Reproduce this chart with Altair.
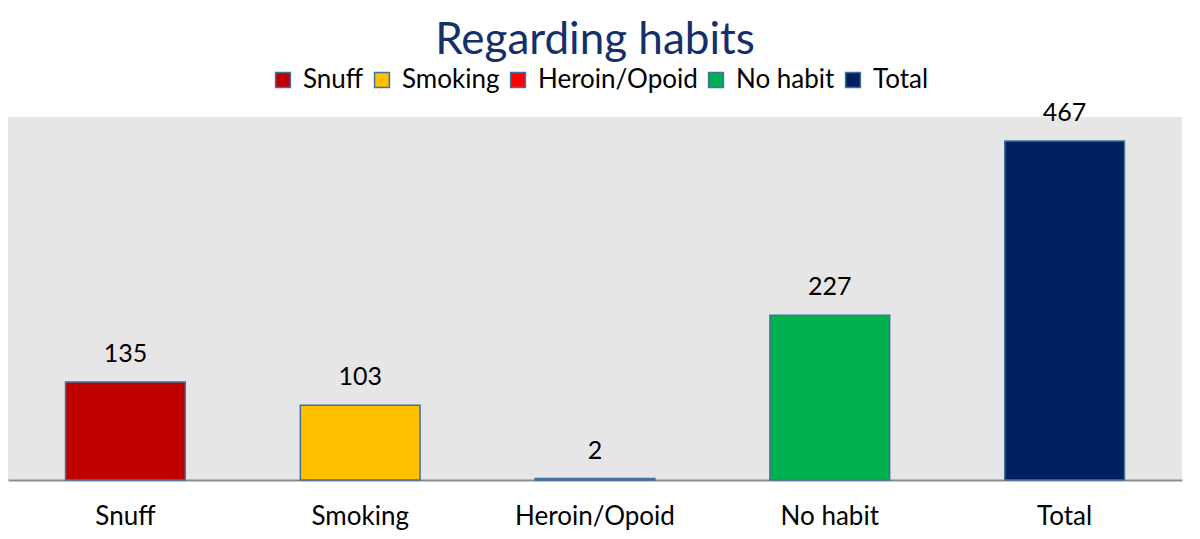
import altair as alt
import pandas as pd

categories = ["Snuff", "Smoking", "Heroin/Opoid", "No habit", "Total"]
values = [135, 103, 2, 227, 467]
colors = ["#C00000", "#FFC000", "#FF0000", "#00B050", "#002060"]

df = pd.DataFrame({"habit": categories, "count": values})

FONT = "Lato"

x = alt.X("habit:N", sort=categories,
          scale=alt.Scale(paddingInner=0.49, paddingOuter=0.245),
          axis=alt.Axis(title=None, labelAngle=0, labelFontSize=26, labelFont=FONT,
                        labelColor="#000000", labelPadding=23, ticks=False,
                        domainColor="#8C8C8C", domainWidth=2))
y = alt.Y("count:Q", scale=alt.Scale(domain=[0, 500], nice=False), axis=None)

bars = alt.Chart(df).mark_bar(stroke="#41719C", strokeWidth=1.5).encode(
    x=x, y=y,
    color=alt.Color("habit:N", sort=categories,
                    scale=alt.Scale(domain=categories, range=colors),
                    legend=alt.Legend(title=None, orient="none", direction="horizontal",
                                      legendX=262, legendY=-50, labelFontSize=26,
                                      labelFont=FONT, labelColor="#000000",
                                      symbolType="square", symbolSize=220,
                                      symbolStrokeColor="#41719C", symbolStrokeWidth=1.5,
                                      columnPadding=5, labelOffset=7))
)

labels = alt.Chart(df).mark_text(fontSize=25, font=FONT, color="#000000",
                                 baseline="bottom", dy=-15).encode(
    x=alt.X("habit:N", sort=categories), y=y, text="count:Q")

chart = alt.layer(bars, labels).properties(
    width=1174, height=363,
    title=alt.TitleParams("Regarding habits", fontSize=44, font=FONT, fontWeight="normal",
                          color="#13306B", anchor="middle", offset=4),
    autosize=alt.AutoSizeParams(type="none"),
    padding={"left": 0, "top": 109, "right": 10, "bottom": 50},
).configure_view(fill="#E7E6E6", stroke=None)

chart.save("out.html", embed_options={"renderer": "svg", "actions": False})
